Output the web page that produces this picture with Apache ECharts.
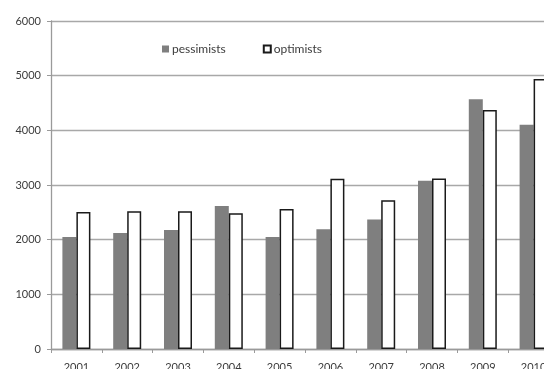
<!DOCTYPE html>
<html>
<head>
<meta charset="utf-8">
<script src="https://cdn.jsdelivr.net/npm/echarts@6/dist/echarts.min.js"></script>
<style>
  html, body { margin: 0; padding: 0; background: #fff; }
  #chart { width: 544px; height: 369px; }
</style>
</head>
<body>
<div id="chart"></div>
<script>
// Yearly counts of pessimists and optimists, 2001-2010
const years = ['2001', '2002', '2003', '2004', '2005', '2006', '2007', '2008', '2009', '2010'];
const pessimists = [2050, 2120, 2175, 2615, 2050, 2190, 2370, 3080, 4570, 4100];
const optimists = [2505, 2520, 2520, 2485, 2560, 3115, 2720, 3120, 4370, 4940];
const yTicks = [0, 1000, 2000, 3000, 4000, 5000, 6000];

const textColor = '#3c3c3c';
const font = 'Lato, "Open Sans", sans-serif';

const chart = echarts.init(document.getElementById('chart'), null, { renderer: 'canvas' });
chart.setOption({
  animation: false,
  backgroundColor: '#ffffff',
  legend: {
    left: 157,
    top: 38,
    itemWidth: 7,
    itemHeight: 7,
    itemGap: 37,
    icon: 'rect',
    textStyle: { fontFamily: font, fontSize: 12, color: textColor, padding: [0, 0, 0, -2] },
    data: ['pessimists', 'optimists']
  },
  // the plot runs past the right edge of the canvas, so the last year is cut off
  grid: { left: 51, top: 21, right: -15, bottom: 20, containLabel: false, outerBoundsMode: 'none' },
  xAxis: {
    type: 'category',
    data: years,
    axisLine: { lineStyle: { color: '#9a9a9a', width: 1.3 } },
    axisTick: { show: true, length: 4, lineStyle: { color: '#9a9a9a' } },
    axisLabel: { fontFamily: font, fontSize: 11, color: textColor, margin: 13 }
  },
  yAxis: {
    type: 'value',
    min: yTicks[0],
    max: yTicks[yTicks.length - 1],
    interval: 1000,
    axisLine: { show: true, lineStyle: { color: '#9a9a9a', width: 1.3 } },
    axisTick: { show: true, length: 4, lineStyle: { color: '#9a9a9a' } },
    axisLabel: { fontFamily: font, fontSize: 11, color: textColor, margin: 10, formatter: v => String(v) },
    splitLine: { lineStyle: { color: '#a8a8a8', width: 1.3 } }
  },
  series: [
    {
      name: 'pessimists',
      type: 'bar',
      data: pessimists,
      barWidth: 14,
      barGap: '0%',
      itemStyle: { color: '#7f7f7f' }
    },
    {
      name: 'optimists',
      type: 'bar',
      data: optimists,
      barWidth: 14,
      itemStyle: { color: '#ffffff', borderColor: '#1a1a1a', borderWidth: 1.5 }
    }
  ]
});
</script>
</body>
</html>
